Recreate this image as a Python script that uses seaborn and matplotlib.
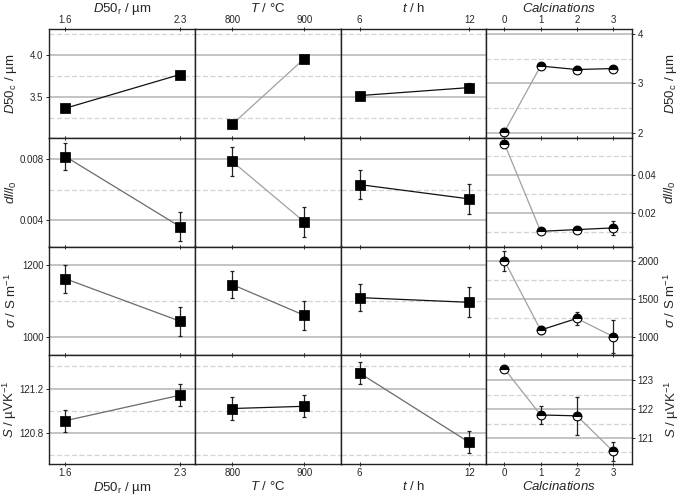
import numpy as np
import pandas as pd
import matplotlib
matplotlib.use("Agg")
import matplotlib.pyplot as plt
from matplotlib.ticker import MultipleLocator, FormatStrFormatter
import seaborn as sns

# ---- data ----
d50r = [1.6, 2.3]
temp = [800, 900]
time_h = [6, 12]
calc = [0, 1, 2, 3]

# D50c / um
d50c_d50r = [3.37, 3.77]
d50c_d50r_err = [0.05, 0.04]
d50c_temp = [3.18, 3.96]
d50c_temp_err = [0.04, 0.04]
d50c_time = [3.52, 3.615]
d50c_time_err = [0.04, 0.05]
d50c_calc = [2.02, 3.35, 3.28, 3.30]
d50c_calc_err = [0.02, 0.03, 0.08, 0.03]

# dl/l0
dl_d50r = [0.00815, 0.0036]
dl_d50r_err = [0.0009, 0.00095]
dl_temp = [0.00783, 0.0039]
dl_temp_err = [0.00093, 0.00096]
dl_time = [0.00633, 0.0054]
dl_time_err = [0.00093, 0.00096]
dl_calc = [0.0567, 0.0105, 0.0114, 0.0123]
dl_calc_err = [0.001, 0.0008, 0.001, 0.0035]

# sigma / S m-1
sig_d50r = [1161, 1044]
sig_d50r_err = [39, 40]
sig_temp = [1145, 1060]
sig_temp_err = [37, 40]
sig_time = [1109, 1096]
sig_time_err = [38, 41]
sig_calc = [2005, 1087, 1241, 1000]
sig_calc_err = [130, 50, 85, 215]

# S / uV K-1
see_d50r = [120.91, 121.14]
see_d50r_err = [0.1, 0.1]
see_temp = [121.02, 121.04]
see_temp_err = [0.1, 0.1]
see_time = [121.34, 120.715]
see_time_err = [0.1, 0.1]
see_calc = [123.4, 121.8, 121.77, 120.54]
see_calc_err = [0.08, 0.31, 0.65, 0.32]

xs = [d50r, temp, time_h, calc]
rows = [
    [(d50c_d50r, d50c_d50r_err), (d50c_temp, d50c_temp_err), (d50c_time, d50c_time_err), (d50c_calc, d50c_calc_err)],
    [(dl_d50r, dl_d50r_err), (dl_temp, dl_temp_err), (dl_time, dl_time_err), (dl_calc, dl_calc_err)],
    [(sig_d50r, sig_d50r_err), (sig_temp, sig_temp_err), (sig_time, sig_time_err), (sig_calc, sig_calc_err)],
    [(see_d50r, see_d50r_err), (see_temp, see_temp_err), (see_time, see_time_err), (see_calc, see_calc_err)],
]

# ---- styling ----
sns.set_style("white")
plt.rcParams['font.family'] = ['Liberation Sans', 'DejaVu Sans']
plt.rcParams['mathtext.fontset'] = 'custom'
plt.rcParams['mathtext.rm'] = 'Liberation Sans'
plt.rcParams['mathtext.it'] = 'Liberation Sans:italic'
plt.rcParams['mathtext.default'] = 'regular'

DARK = "#111111"
GRAY = "#a0a0a0"
MID = "#6a6a6a"
seg_colors = [
    [[DARK], [GRAY], [DARK], [GRAY, DARK, DARK]],
    [[MID], [GRAY], [DARK], [GRAY, DARK, DARK]],
    [[MID], [MID], [DARK], [GRAY, DARK, GRAY]],
    [[MID], [DARK], [MID], [GRAY, DARK, GRAY]],
]

xlims = [(1.5, 2.39), (748, 950), (4.96, 12.93), (-0.5, 3.52)]
left_ylims = [(3.02, 4.31), (0.00231, 0.00937), (950, 1250), (120.52, 121.50)]
right_ylims = [(1.9, 4.1), (0.0025, 0.0598), (753, 2194), (120.1, 123.87)]
left_loc = [(0.5, 0.25, '%.1f'), (0.004, 0.002, '%.3f'), (200, 100, '%d'), (0.4, 0.2, '%.1f')]
right_loc = [(1, 0.5, '%d'), (0.02, 0.01, '%.2f'), (500, 250, '%d'), (1, 0.5, '%d')]

xlabels = [r"$\it{D50}_{\rm r}$ / µm", r"$\it{T}$ / °C", r"$\it{t}$ / h", r"$\it{Calcinations}$"]
ylabels = [r"$\it{D50}_{\rm c}$ / µm", r"$\it{dl/l}_{\rm 0}$", r"$\it{\sigma}$ / S m$^{-1}$",
           r"$\it{S}$ / µVK$^{-1}$"]

fig, axes = plt.subplots(4, 4, figsize=(6.85, 4.96), dpi=100,
                         gridspec_kw=dict(hspace=0, wspace=0))
fig.subplots_adjust(left=49 / 685, right=632 / 685, top=1 - 29 / 496, bottom=1 - 464 / 496)

for r in range(4):
    for c in range(4):
        ax = axes[r, c]
        x = xs[c]
        y, e = rows[r][c]
        df = pd.DataFrame({'x': x, 'y': y, 'e': e})

        # connecting segments
        for k in range(len(df) - 1):
            seg = df.iloc[k:k + 2]
            sns.lineplot(data=seg, x='x', y='y', color=seg_colors[r][c][k], lw=0.9,
                         ax=ax, legend=False, zorder=3)
        ax.errorbar(df['x'], df['y'], yerr=df['e'], fmt='none', ecolor='#222222',
                    elinewidth=0.9, capsize=1.3, capthick=0.9, zorder=4)
        if c < 3:
            sns.scatterplot(data=df, x='x', y='y', marker='s', s=44, color='black',
                            edgecolor='black', ax=ax, zorder=5, legend=False)
        else:
            ax.plot(df['x'], df['y'], 'o', ms=6.3, fillstyle='top', markerfacecolor='black',
                    markerfacecoloralt='white', markeredgecolor='black', mew=0.8, zorder=5)

        ax.set_xlim(*xlims[c])
        ax.set_xticks(x)
        if c < 3:
            ax.set_ylim(*left_ylims[r])
            maj, mnr, fmt = left_loc[r]
        else:
            ax.set_ylim(*right_ylims[r])
            maj, mnr, fmt = right_loc[r]
        ax.yaxis.set_major_locator(MultipleLocator(maj))
        ax.yaxis.set_minor_locator(MultipleLocator(mnr))
        ax.yaxis.set_major_formatter(FormatStrFormatter(fmt))
        ax.grid(True, which='major', axis='y', color='#b4b4b4', lw=1.1)
        ax.grid(True, which='minor', axis='y', color='#d4d4d4', lw=0.9, ls=(0, (4, 2)))
        ax.grid(False, axis='x')
        ax.set_axisbelow(True)

        for sp in ax.spines.values():
            sp.set_color('#222222')
            sp.set_linewidth(1.0)

        ax.tick_params(axis='x', which='major', direction='inout', length=3, width=0.7,
                       color='#333333', top=True, bottom=True,
                       labeltop=(r == 0), labelbottom=(r == 3), labelsize=7, pad=1.2)
        ax.tick_params(axis='y', which='both', left=False, right=False,
                       labelleft=False, labelright=False)
        if c == 0:
            ax.tick_params(axis='y', which='major', left=True, labelleft=True, direction='out',
                           length=2.5, width=0.7, labelsize=7, pad=1.5)
            ax.set_ylabel(ylabels[r], fontsize=9.5)
            ax.yaxis.set_label_coords(-0.205, 0.5)
        elif c == 3:
            ax.tick_params(axis='y', which='major', right=True, labelright=True, direction='out',
                           length=2.5, width=0.7, labelsize=7, pad=1.5)
            ax.yaxis.set_label_position('right')
            ax.set_ylabel(ylabels[r], fontsize=9.5, rotation=90)
            ax.yaxis.set_label_coords(1.21, 0.5)
        else:
            ax.set_ylabel('')

        if r == 0:
            ax.xaxis.set_label_position('top')
            ax.set_xlabel(xlabels[c], fontsize=9.5)
            ax.xaxis.set_label_coords(0.5, 1.155)
        elif r == 3:
            ax.set_xlabel(xlabels[c], fontsize=9.5)
            ax.xaxis.set_label_coords(0.5, -0.145)
        else:
            ax.set_xlabel('')

fig.savefig("out.png", dpi=100)
